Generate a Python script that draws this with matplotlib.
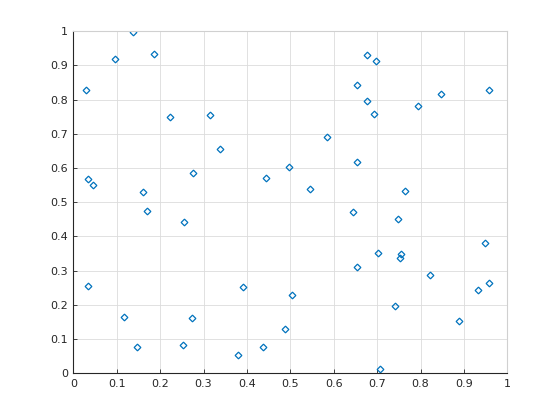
import numpy as np
import matplotlib
matplotlib.use("Agg")
import matplotlib.pyplot as plt

# values (50 random-looking points)
x = [0.138, 0.097, 0.186, 0.030, 0.222, 0.315, 0.338, 0.033, 0.046, 0.161,
     0.276, 0.170, 0.255, 0.444, 0.496, 0.545, 0.585, 0.653, 0.676, 0.697,
     0.676, 0.692, 0.653, 0.794, 0.847, 0.957, 0.644, 0.763, 0.749, 0.703,
     0.653, 0.754, 0.752, 0.821, 0.948, 0.957, 0.933, 0.740, 0.888, 0.706,
     0.503, 0.487, 0.437, 0.379, 0.391, 0.274, 0.253, 0.147, 0.117, 0.034]
y = [0.996, 0.917, 0.934, 0.829, 0.748, 0.754, 0.655, 0.567, 0.549, 0.529,
     0.585, 0.473, 0.442, 0.570, 0.602, 0.538, 0.690, 0.842, 0.929, 0.914,
     0.795, 0.757, 0.617, 0.780, 0.815, 0.827, 0.471, 0.532, 0.451, 0.351,
     0.310, 0.350, 0.337, 0.287, 0.380, 0.263, 0.243, 0.197, 0.153, 0.012,
     0.228, 0.130, 0.076, 0.053, 0.252, 0.161, 0.082, 0.076, 0.164, 0.256]

ticks = np.round(np.arange(0, 1.01, 0.1), 1)
tick_labels = ["0", "0.1", "0.2", "0.3", "0.4", "0.5", "0.6", "0.7", "0.8", "0.9", "1"]

fig = plt.figure(figsize=(5.6, 4.2), dpi=100)
ax = fig.add_axes([0.131, 0.111, 0.775, 0.815])

ax.plot(x, y, linestyle="none", marker="D", markersize=3.4,
        markerfacecolor="none", markeredgecolor="#0072BD", markeredgewidth=0.9)

ax.set_xlim(0, 1)
ax.set_ylim(0, 1)
ax.set_xticks(ticks)
ax.set_yticks(ticks)
ax.set_xticklabels(tick_labels)
ax.set_yticklabels(tick_labels)
ax.tick_params(direction="in", length=3, width=0.6, labelsize=8,
               colors="#262626", pad=4)
ax.grid(True, color="#dcdcdc", linewidth=0.6)
ax.set_axisbelow(True)

for side in ["left", "bottom"]:
    ax.spines[side].set_color("#262626")
    ax.spines[side].set_linewidth(0.8)
for side in ["top", "right"]:
    ax.spines[side].set_color("#d0d0d0")
    ax.spines[side].set_linewidth(0.8)

fig.savefig("out.png", dpi=100)
